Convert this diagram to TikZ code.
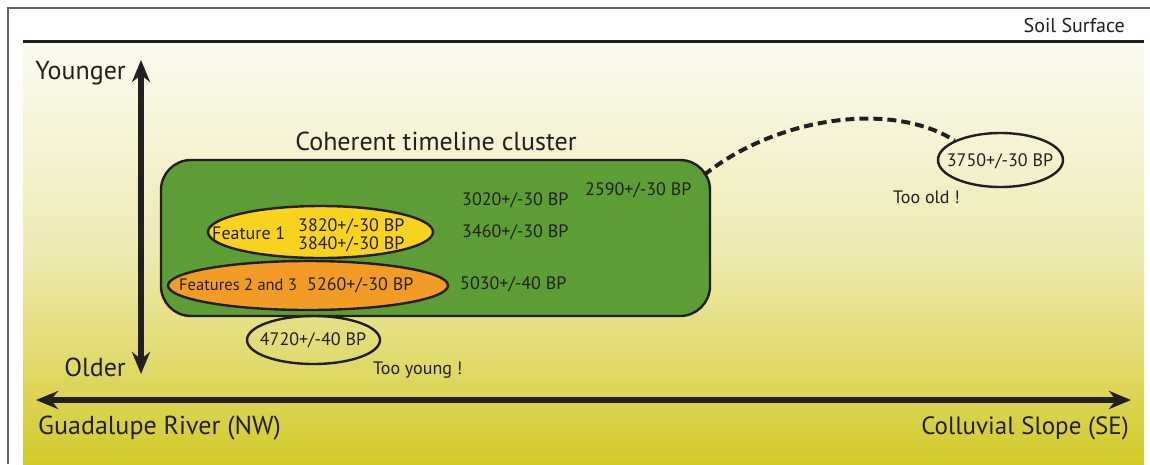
\documentclass[tikz,border=0pt]{standalone}
\usepackage{fontspec}
\setmainfont{PT Sans}
\usetikzlibrary{arrows.meta,shapes.geometric}
\definecolor{ink}{HTML}{231F20}
\definecolor{bgtop}{HTML}{FBFBF0}
\definecolor{bgmid}{HTML}{EEEAB2}
\definecolor{bgbot}{HTML}{D3CA28}
\definecolor{clgreen}{HTML}{5C9E35}
\definecolor{fyellow}{HTML}{F9D31D}
\definecolor{forange}{HTML}{F29C26}
\tikzset{
  lbl/.style={text=ink,inner sep=0pt,font=\fontsize{18}{20}\selectfont},
  biglbl/.style={text=ink,inner sep=0pt,font=\fontsize{26}{28}\selectfont},
  elbox/.style={ellipse,draw=ink,line width=2.4pt,inner sep=0pt},
  bigarrow/.style={draw=ink,line width=6pt,{Stealth[length=22pt,width=18pt]}-{Stealth[length=22pt,width=18pt]}},
}
\begin{document}
\begin{tikzpicture}[x=1pt,y=-1pt]
\useasboundingbox (0,0) rectangle (1150,464);
\fill[white] (0,0) rectangle (1150,464);
% background gradient
\shade[top color=bgtop,bottom color=bgbot,middle color=bgmid] (23,42) rectangle (1144,464);
% frame
\draw[ink!70,line width=1.5pt] (1150,8) -- (8,8) -- (8,464);
% soil surface line
\draw[ink,line width=3pt] (23,41) -- (1144,41);
\node[lbl,anchor=east,font=\fontsize{20}{22}\selectfont] (soil) at (1125,25) {Soil Surface};
% axes
\coordinate (vtop) at (141,60);
\coordinate (vbot) at (141,374);
\draw[bigarrow] (vbot) -- (vtop);
\node[biglbl,anchor=east] (younger) at (126,73) {Younger};
\node[biglbl,anchor=east] (older) at (126,367) {Older};
\coordinate (hleft) at (36,400);
\coordinate (hright) at (1131,400);
\draw[bigarrow] (hleft) -- (hright);
\node[biglbl,anchor=west] (river) at (38,428) {Guadalupe River (NW)};
\node[biglbl,anchor=east,font=\fontsize{25}{27}\selectfont] (slope) at (1129,428) {Colluvial Slope (SE)};
% cluster
\node[biglbl] (cltitle) at (436,141) {Coherent timeline cluster};
\node[draw=ink,fill=clgreen,line width=2.4pt,rounded corners=30pt,minimum width=549pt,minimum height=156pt] (cluster) at (435.5,238) {};
\node[elbox,fill=fyellow,minimum width=225pt,minimum height=52pt] (f1) at (320.5,232) {};
\node[elbox,fill=forange,minimum width=280pt,minimum height=49pt] (f23) at (308,285.5) {};
\node[lbl,anchor=west] (f1t) at (212,233) {Feature 1};
\node[lbl,anchor=west,align=left,font=\fontsize{18}{18}\selectfont] (f1d) at (298,235) {3820+/-30 BP\\3840+/-30 BP};
\node[lbl,anchor=west,font=\fontsize{16.5}{19}\selectfont] (f23t) at (179,285) {Features 2 and 3};
\node[lbl,anchor=west] (f23d) at (307,285) {5260+/-30 BP};
\node[lbl,anchor=west] (d3020) at (462,200) {3020+/-30 BP};
\node[lbl,anchor=west] (d3460) at (462,232) {3460+/-30 BP};
\node[lbl,anchor=west] (d5030) at (460,284) {5030+/-40 BP};
\node[lbl,anchor=west] (d2590) at (585,190) {2590+/-30 BP};
% outliers
\node[elbox,minimum width=133pt,minimum height=48pt] (young) at (313.5,340) {};
\node[lbl] (youngt) at (313,340) {4720+/-40 BP};
\node[lbl,anchor=west] (tooyoung) at (373,370) {Too young !};
\node[elbox,minimum width=125pt,minimum height=54pt] (old) at (1000.5,160) {};
\node[lbl] (oldt) at (1000,161) {3750+/-30 BP};
\node[lbl,anchor=west] (tooold) at (893,197) {Too old !};
% dashed link
\coordinate (dstart) at (704,175);
\draw[ink,line width=4pt,dash pattern=on 9pt off 5pt] (dstart) .. controls (775,118) and (890,100) .. (old.157);
\end{tikzpicture}
\end{document}
